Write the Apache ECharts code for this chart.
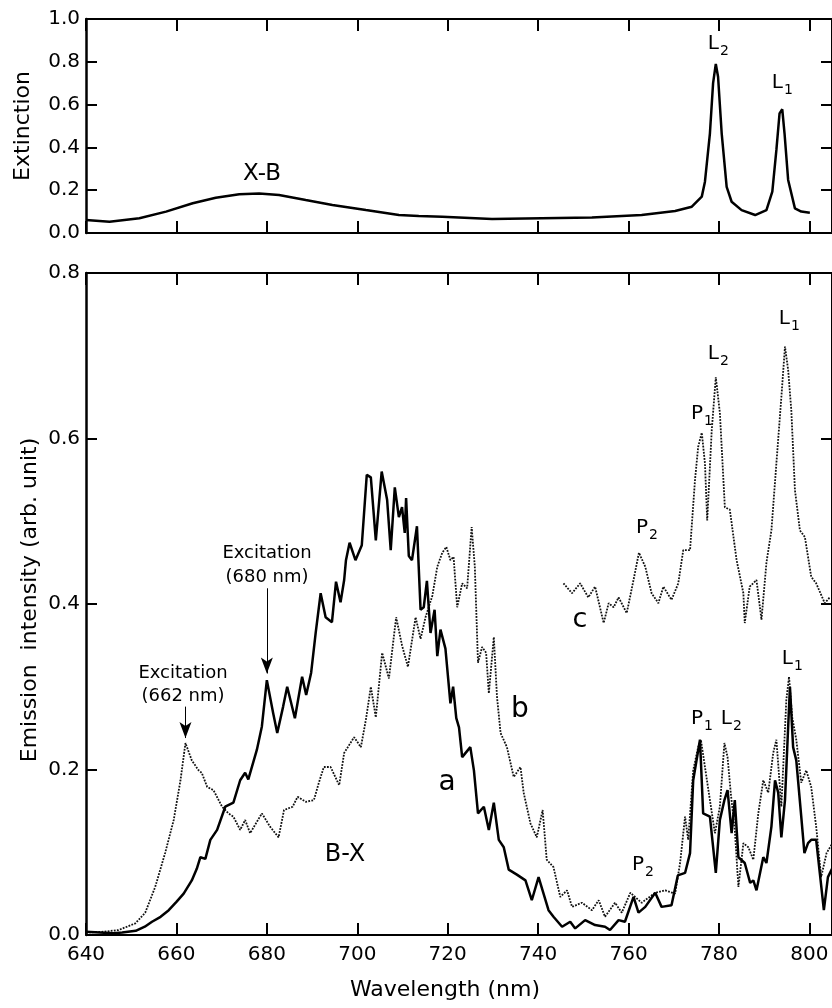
<!DOCTYPE html>
<html>
<head>
<meta charset="utf-8">
<script src="https://cdn.jsdelivr.net/npm/echarts@6/dist/echarts.min.js"></script>
<style>
  html, body { margin: 0; padding: 0; background: #fff; }
  #chart { width: 832px; height: 1008px; }
</style>
</head>
<body>
<div id="chart"></div>
<script>
// extinction spectrum (top panel)
const extNm  = [640, 645.2, 651.8, 657.7, 663.6, 668.7, 673.9, 678.3, 682.7, 688.6, 694.5, 701.9, 709.2, 713.6, 718.8, 729.8, 740.8, 751.9, 762.9, 770.3, 774.0, 776.2, 776.9, 778.0, 778.7, 779.3, 779.8, 780.6, 781.7, 782.8, 785.0, 788.0, 790.5, 791.8, 792.7, 793.4, 794.0, 794.5, 795.3, 796.8, 798.2, 800.1];
const extVal = [0.061, 0.053, 0.069, 0.100, 0.139, 0.165, 0.181, 0.185, 0.178, 0.154, 0.131, 0.107, 0.084, 0.079, 0.076, 0.065, 0.069, 0.073, 0.084, 0.103, 0.123, 0.170, 0.240, 0.466, 0.700, 0.790, 0.730, 0.466, 0.216, 0.146, 0.107, 0.084, 0.107, 0.193, 0.388, 0.559, 0.578, 0.466, 0.248, 0.115, 0.100, 0.095];

// emission a (680 nm excitation, solid)
const aNm  = [640, 643, 646, 648, 651, 653, 654.6, 656.5, 658.3, 660, 661.6, 663.4, 664.5, 665.3, 666.4, 667.5, 669, 670.8, 672.6, 674.1, 675.2, 675.9, 677.8, 678.9, 680.0, 681.4, 682.3, 683.6, 684.5, 686.2, 687.8, 688.7, 689.8, 690.8, 691.9, 693.0, 694.4, 695.3, 696.3, 697.1, 697.5, 698.3, 699.6, 701.0, 702.1, 703.0, 704.1, 705.4, 706.6, 707.4, 708.3, 709.2, 709.9, 710.5, 710.8, 711.4, 712.1, 713.2, 714.0, 714.7, 715.4, 716.2, 717.1, 717.7, 718.4, 719.5, 720.6, 721.2, 721.9, 722.5, 723.2, 725.0, 725.8, 726.7, 728.0, 729.1, 730.2, 731.3, 732.4, 733.5, 735.3, 737.2, 738.6, 740.1, 742.3, 743.4, 745.3, 747.1, 748.2, 750.4, 752.6, 754.8, 755.9, 757.8, 759.2, 761.1, 762.2, 763.7, 765.9, 767.3, 769.5, 770.9, 772.5, 773.6, 774.3, 775.8, 776.5, 778.0, 779.3, 780.2, 781.2, 781.9, 782.8, 783.5, 784.3, 785.7, 786.9, 787.6, 788.3, 789.8, 790.5, 791.6, 792.4, 793.1, 793.8, 794.6, 795.3, 795.7, 796.4, 797.1, 798.2, 798.9, 799.7, 800.4, 801.5, 802.3, 803.2, 804.1, 805];
const aVal = [0.004, 0.003, 0.002, 0.003, 0.005, 0.010, 0.016, 0.022, 0.030, 0.040, 0.050, 0.066, 0.080, 0.094, 0.092, 0.115, 0.127, 0.155, 0.160, 0.187, 0.196, 0.188, 0.224, 0.252, 0.308, 0.268, 0.244, 0.276, 0.300, 0.262, 0.312, 0.290, 0.317, 0.365, 0.413, 0.384, 0.378, 0.427, 0.402, 0.429, 0.453, 0.474, 0.453, 0.471, 0.556, 0.553, 0.477, 0.560, 0.526, 0.465, 0.541, 0.505, 0.517, 0.486, 0.528, 0.458, 0.453, 0.494, 0.393, 0.396, 0.428, 0.365, 0.393, 0.337, 0.369, 0.346, 0.280, 0.300, 0.262, 0.251, 0.215, 0.227, 0.199, 0.147, 0.155, 0.127, 0.160, 0.115, 0.106, 0.079, 0.073, 0.066, 0.042, 0.070, 0.030, 0.022, 0.010, 0.016, 0.008, 0.018, 0.012, 0.010, 0.006, 0.018, 0.016, 0.046, 0.027, 0.034, 0.051, 0.034, 0.036, 0.072, 0.075, 0.099, 0.187, 0.236, 0.147, 0.143, 0.075, 0.139, 0.163, 0.175, 0.123, 0.163, 0.094, 0.087, 0.063, 0.066, 0.054, 0.094, 0.087, 0.131, 0.187, 0.172, 0.118, 0.163, 0.251, 0.300, 0.227, 0.211, 0.143, 0.099, 0.111, 0.115, 0.115, 0.075, 0.030, 0.070, 0.080];

// emission b (662 nm excitation, dotted)
const bNm  = [640, 644, 647.2, 650.9, 653.1, 655.3, 657.5, 659.4, 660.9, 662.0, 663.4, 664.9, 665.6, 666.8, 668.2, 670.1, 671.5, 672.6, 674.1, 675.2, 676.3, 678.9, 680.7, 682.6, 683.8, 685.7, 686.8, 688.6, 690.4, 691.5, 692.6, 694.1, 696.0, 697.1, 699.3, 700.8, 701.9, 703.0, 704.1, 705.5, 707.0, 708.6, 709.9, 711.2, 712.9, 714.0, 715.1, 716.6, 717.7, 718.8, 719.7, 720.6, 721.3, 722.1, 723.2, 724.3, 725.3, 726.0, 726.7, 727.6, 728.5, 729.1, 730.2, 730.9, 731.7, 733.1, 734.6, 736.1, 736.8, 738.3, 739.7, 741.0, 741.9, 743.4, 744.9, 746.4, 747.5, 749.7, 751.9, 753.4, 754.8, 757.0, 758.5, 760.4, 762.9, 765.9, 768.1, 770.3, 771.4, 772.5, 773.2, 774.3, 775.4, 776.0, 776.9, 778.0, 779.1, 780.2, 781.2, 781.9, 782.6, 783.5, 784.3, 785.4, 786.5, 787.6, 788.7, 789.8, 790.9, 792.0, 792.7, 793.8, 794.9, 795.5, 796.2, 797.1, 798.2, 799.3, 800.4, 801.5, 802.6, 803.8, 805];
const bVal = [0.003, 0.004, 0.006, 0.014, 0.027, 0.058, 0.099, 0.139, 0.187, 0.232, 0.211, 0.199, 0.196, 0.179, 0.175, 0.155, 0.147, 0.143, 0.127, 0.139, 0.123, 0.147, 0.131, 0.118, 0.151, 0.155, 0.167, 0.161, 0.163, 0.184, 0.203, 0.203, 0.181, 0.220, 0.239, 0.227, 0.260, 0.300, 0.263, 0.341, 0.310, 0.384, 0.350, 0.324, 0.384, 0.358, 0.384, 0.410, 0.445, 0.462, 0.469, 0.453, 0.457, 0.396, 0.425, 0.419, 0.493, 0.445, 0.329, 0.348, 0.341, 0.292, 0.360, 0.288, 0.244, 0.227, 0.191, 0.203, 0.172, 0.135, 0.118, 0.151, 0.091, 0.082, 0.046, 0.054, 0.034, 0.039, 0.030, 0.042, 0.022, 0.039, 0.027, 0.051, 0.039, 0.051, 0.054, 0.050, 0.087, 0.143, 0.115, 0.199, 0.227, 0.236, 0.203, 0.163, 0.123, 0.155, 0.232, 0.215, 0.172, 0.127, 0.058, 0.111, 0.106, 0.091, 0.147, 0.187, 0.172, 0.220, 0.236, 0.155, 0.284, 0.312, 0.263, 0.236, 0.184, 0.199, 0.179, 0.131, 0.070, 0.099, 0.110];

// emission c (offset, dotted)
const cNm  = [745.6, 747.5, 749.3, 751.1, 752.6, 754.5, 755.6, 756.7, 757.8, 759.6, 761.1, 762.3, 763.7, 765.1, 766.6, 767.7, 769.5, 771.0, 772.1, 773.6, 774.7, 775.4, 776.2, 776.9, 777.4, 778.4, 779.3, 780.2, 781.3, 782.4, 783.9, 785.4, 785.7, 786.8, 788.3, 789.4, 790.5, 791.6, 792.7, 793.8, 794.6, 795.3, 796.0, 796.8, 797.9, 799.0, 800.4, 801.5, 803.4, 804.5];
const cVal = [0.425, 0.413, 0.425, 0.408, 0.421, 0.377, 0.401, 0.396, 0.408, 0.389, 0.429, 0.462, 0.445, 0.413, 0.401, 0.421, 0.405, 0.425, 0.465, 0.465, 0.550, 0.590, 0.607, 0.570, 0.501, 0.610, 0.674, 0.631, 0.517, 0.514, 0.453, 0.413, 0.377, 0.421, 0.429, 0.381, 0.450, 0.489, 0.570, 0.650, 0.711, 0.683, 0.634, 0.538, 0.489, 0.481, 0.433, 0.425, 0.401, 0.408];

const pairs = (xs, ys) => xs.map((x, i) => [x, ys[i]]);

const dom = document.getElementById("chart");
const myChart = echarts.init(dom, null, { renderer: "canvas" });

const FONT = "DejaVu Sans";
const black = "#000";

const xBase = (grid, pos, labels) => ({
  type: "value",
  gridIndex: grid,
  position: pos,
  min: 640,
  max: 805,
  interval: 20,
  axisLine: { show: true, onZero: false, lineStyle: { color: black, width: 2 } },
  axisTick: { show: true, inside: true, length: 12, lineStyle: { color: black, width: 2 } },
  axisLabel: {
    show: labels,
    showMaxLabel: false,
    color: black,
    fontFamily: FONT,
    fontSize: 20,
    margin: 10,
    formatter: (v) => (v % 20 === 0 ? String(v) : ""),
  },
  splitLine: { show: false },
});

const yBase = (grid, pos, max, labels) => ({
  type: "value",
  gridIndex: grid,
  position: pos,
  min: 0,
  max: max,
  interval: 0.2,
  axisLine: { show: true, onZero: false, lineStyle: { color: black, width: pos === "left" ? 2.5 : 2 } },
  axisTick: { show: true, inside: true, length: 11, lineStyle: { color: black, width: 2 } },
  axisLabel: {
    show: labels,
    color: black,
    fontFamily: FONT,
    fontSize: 20,
    margin: 6,
    formatter: (v) => v.toFixed(1),
  },
  splitLine: { show: false },
});

const solid = { color: black, width: 2.5 };
const dotted = { color: "#111", width: 1.8, type: [1.8, 1.3] };

const txt = (x, y, text, size, extra) => ({
  type: "text",
  x: x,
  y: y,
  silent: true,
  style: Object.assign({
    text: text,
    fill: black,
    font: size + "px '" + FONT + "'",
    align: "center",
    verticalAlign: "middle",
  }, extra || {}),
});

// letter with subscript digit, roughly centred on (x, y)
const sub = (x, y, letter, digit) => ({
  type: "group",
  silent: true,
  children: [
    txt(x + 1, y, letter, 20, { align: "right" }),
    txt(x + 2, y + 7, digit, 14, { align: "left" }),
  ],
});

var option = {
  animation: false,
  backgroundColor: "#fff",
  textStyle: { fontFamily: FONT },
  grid: [
    { left: 86, top: 19, width: 747, height: 214 },
    { left: 86, top: 273, width: 747, height: 662 },
  ],
  xAxis: [
    xBase(0, "bottom", false),
    xBase(0, "top", false),
    xBase(1, "bottom", true),
    xBase(1, "top", false),
  ],
  yAxis: [
    yBase(0, "left", 1.0, true),
    yBase(0, "right", 1.0, false),
    yBase(1, "left", 0.8, true),
    yBase(1, "right", 0.8, false),
  ],
  series: [
    {
      name: "extinction",
      type: "line",
      xAxisIndex: 0,
      yAxisIndex: 0,
      symbol: "none",
      lineStyle: solid,
      data: pairs(extNm, extVal),
    },
    {
      name: "b",
      type: "line",
      xAxisIndex: 2,
      yAxisIndex: 2,
      symbol: "none",
      lineStyle: dotted,
      data: pairs(bNm, bVal),
      markLine: {
        silent: true,
        symbol: ["none", "arrow"],
        symbolSize: [9, 16],
        label: { show: false },
        lineStyle: { color: black, width: 1, type: "solid" },
        data: [[{ coord: [662, 0.276] }, { coord: [662, 0.238] }]],
      },
    },
    {
      name: "c",
      type: "line",
      xAxisIndex: 2,
      yAxisIndex: 2,
      symbol: "none",
      lineStyle: dotted,
      data: pairs(cNm, cVal),
    },
    {
      name: "a",
      type: "line",
      xAxisIndex: 2,
      yAxisIndex: 2,
      symbol: "none",
      lineStyle: solid,
      data: pairs(aNm, aVal),
      markLine: {
        silent: true,
        symbol: ["none", "arrow"],
        symbolSize: [9, 16],
        label: { show: false },
        lineStyle: { color: black, width: 1, type: "solid" },
        data: [[{ coord: [680, 0.419] }, { coord: [680, 0.316] }]],
      },
    },
  ],
  graphic: [
    // axis titles
    Object.assign(txt(23, 126, "Extinction", 22), { rotation: Math.PI / 2 }),
    Object.assign(txt(30, 600, "Emission  intensity (arb. unit)", 22), { rotation: Math.PI / 2 }),
    txt(445, 990, "Wavelength (nm)", 22),
    // top panel annotations
    txt(262, 174, "X-B", 23),
    sub(718, 44, "L", "2"),
    sub(782, 83, "L", "1"),
    // bottom panel annotations
    sub(789, 319, "L", "1"),
    sub(718, 354, "L", "2"),
    sub(702, 414, "P", "1"),
    sub(647, 528, "P", "2"),
    txt(580, 620, "c", 27),
    txt(520, 710, "b", 28),
    txt(447, 783, "a", 28),
    txt(345, 855, "B-X", 24),
    sub(702, 719, "P", "1"),
    sub(731, 719, "L", "2"),
    sub(792, 659, "L", "1"),
    sub(643, 865, "P", "2"),
    txt(267, 553, "Excitation", 18),
    txt(267, 577, "(680 nm)", 18),
    txt(183, 673, "Excitation", 18),
    txt(183, 696, "(662 nm)", 18),
  ],
};

myChart.setOption(option);
window.addEventListener("resize", myChart.resize);
</script>
</body>
</html>
